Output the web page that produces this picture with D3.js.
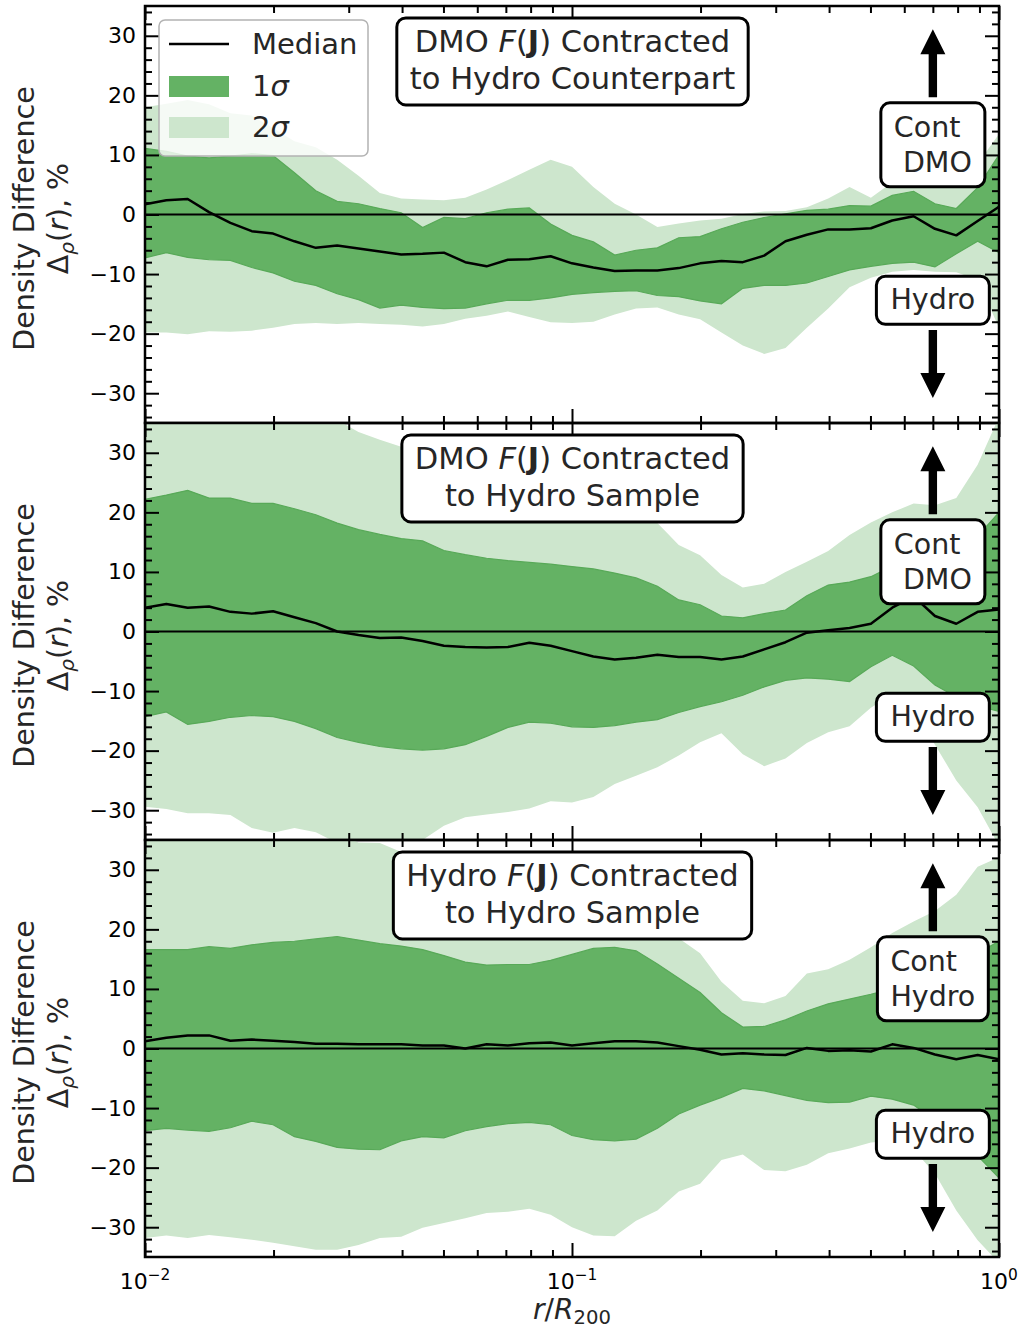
<!DOCTYPE html>
<html><head><meta charset="utf-8">
<script src="https://cdn.jsdelivr.net/npm/d3@7"></script>
<style>
body{margin:0;background:#fff}
svg{display:block}
text{font-family:"DejaVu Sans",sans-serif}
</style>
</head><body>
<svg id="c" width="1032" height="1331"></svg>
<script>
// ---------- DATA ----------
const rLog = [-2.00,-1.95,-1.90,-1.85,-1.80,-1.75,-1.70,-1.65,-1.60,-1.55,-1.50,-1.45,-1.40,-1.35,-1.30,-1.25,-1.20,-1.15,-1.10,-1.05,-1.00,-0.95,-0.90,-0.85,-0.80,-0.75,-0.70,-0.65,-0.60,-0.55,-0.50,-0.45,-0.40,-0.35,-0.30,-0.25,-0.20,-0.15,-0.10,-0.05,0.00];

// Panel 1: DMO F(J) contracted to Hydro counterpart
const med1 = [1.7,2.4,2.6,0.4,-1.4,-2.8,-3.2,-4.5,-5.6,-5.2,-5.7,-6.2,-6.7,-6.6,-6.4,-8.0,-8.7,-7.6,-7.5,-7.0,-8.2,-8.9,-9.5,-9.4,-9.4,-9.0,-8.2,-7.8,-8.0,-6.9,-4.5,-3.4,-2.5,-2.5,-2.3,-1.0,-0.3,-2.4,-3.5,-1.1,1.3];
const hi1_1 = [11.1,10.6,9.8,9.5,9.8,10.2,9.9,7.0,4.0,2.2,1.8,1.0,0.3,-2.2,-0.5,-0.7,0.3,0.9,1.1,-1.6,-3.5,-4.6,-6.8,-6.0,-5.6,-3.9,-3.7,-2.4,-1.3,-0.5,0.1,0.7,0.9,1.5,1.4,3.2,3.9,1.8,1.0,4.5,10.0];
const lo1_1 = [-7.3,-6.4,-7.2,-7.6,-7.7,-8.9,-9.8,-11.2,-11.9,-13.3,-14.3,-15.7,-15.2,-15.6,-15.8,-15.7,-15.0,-14.4,-14.4,-14.0,-13.4,-13.1,-12.9,-12.8,-13.6,-13.8,-14.5,-15.0,-12.4,-11.9,-11.9,-11.5,-10.4,-9.3,-8.7,-8.2,-8.0,-8.8,-6.6,-4.5,-6.4];
const hi2_1 = [18.0,18.6,19.2,18.5,17.0,16.6,14.5,12.3,11.3,9.2,6.5,3.6,2.7,2.5,2.4,2.8,4.2,5.8,7.5,9.2,8.0,4.6,1.8,0.0,-2.1,-1.5,-1.0,-0.7,0.1,0.5,0.6,1.2,2.7,4.6,2.8,5.4,6.5,6.3,7.0,8.5,13.5];
const lo2_1 = [-19.8,-19.8,-20.1,-19.6,-19.7,-19.5,-19.0,-18.4,-18.2,-18.4,-18.2,-18.4,-18.5,-18.8,-18.4,-17.5,-17.0,-16.3,-17.2,-18.1,-18.2,-18.0,-16.8,-15.8,-15.6,-16.8,-17.6,-19.8,-22.0,-23.4,-22.4,-19.0,-15.8,-12.2,-10.6,-9.6,-9.3,-9.6,-9.7,-11.0,-19.0];

// Panel 2: DMO F(J) contracted to Hydro sample
const med2 = [4.0,4.6,4.0,4.2,3.3,3.0,3.4,2.4,1.4,0.0,-0.6,-1.1,-1.0,-1.6,-2.4,-2.6,-2.7,-2.6,-1.9,-2.4,-3.3,-4.2,-4.7,-4.4,-3.9,-4.3,-4.3,-4.7,-4.2,-3.0,-1.8,-0.2,0.2,0.6,1.3,4.0,5.9,2.6,1.3,3.3,3.7];
const hi1_2 = [22.2,22.9,23.7,22.4,22.4,21.5,21.5,20.6,19.6,18.2,17.1,16.3,15.6,15.2,13.6,12.9,12.3,11.9,11.6,11.3,10.9,10.5,9.8,9.0,7.6,5.3,4.5,2.6,2.3,3.0,3.6,6.0,7.8,8.3,9.2,11.0,12.0,13.0,14.0,16.0,20.0];
const lo1_2 = [-14.3,-13.5,-15.6,-15.1,-14.4,-14.1,-14.3,-15.1,-16.3,-17.8,-18.6,-19.3,-19.7,-19.9,-19.7,-19.0,-17.6,-16.1,-15.2,-15.4,-16.0,-16.1,-15.8,-15.2,-14.8,-13.6,-12.6,-11.8,-10.7,-9.3,-8.2,-7.8,-8.0,-8.4,-5.9,-4.0,-5.8,-9.0,-11.0,-12.5,-13.4];
const hi2_2 = [36,36,36,36,36,36,36,36,36,35.5,33.5,32.2,31.0,29.0,27.5,26.0,25.0,24.0,23.0,22.0,21.5,21.0,20.5,20.0,18.2,14.5,12.8,9.5,7.4,8.0,10.0,11.7,13.5,16.2,18.3,20.0,21.5,21.2,22.4,28.0,36];
const lo2_2 = [-29.4,-29.8,-30.5,-30.5,-30.8,-33.0,-33.8,-33.0,-33.7,-35.5,-36,-36,-36,-35.0,-32.6,-31.2,-30.7,-30.3,-29.7,-28.5,-28.7,-27.8,-25.6,-24.2,-22.8,-20.8,-18.6,-17.1,-20.6,-22.6,-21.3,-18.7,-16.9,-15.9,-12.8,-10.5,-13.0,-19.0,-25.0,-29.5,-36];

// Panel 3: Hydro F(J) contracted to Hydro sample
const med3 = [1.2,1.8,2.2,2.2,1.3,1.5,1.3,1.1,0.8,0.8,0.7,0.7,0.7,0.5,0.5,0.0,0.7,0.5,0.9,1.0,0.5,0.9,1.2,1.2,1.0,0.4,-0.2,-1.0,-0.8,-1.0,-1.1,0.1,-0.4,-0.3,-0.5,0.7,0.1,-1.0,-1.8,-1.1,-1.8];
const hi1_3 = [16.6,16.6,16.6,17.1,16.8,17.4,17.8,18.0,18.4,18.8,18.2,17.6,17.2,16.6,15.6,14.5,14.0,14.1,14.1,14.8,15.8,16.8,17.0,16.4,14.2,11.8,9.4,6.0,3.6,3.7,4.8,6.3,7.5,8.3,9.1,10.0,11.0,12.5,14.0,16.0,18.0];
const lo1_3 = [-13.8,-13.4,-13.7,-13.9,-13.3,-12.2,-12.8,-14.8,-15.6,-16.6,-16.9,-17.0,-15.5,-14.8,-15.0,-13.8,-13.1,-12.6,-12.4,-12.8,-14.6,-15.3,-15.5,-15.2,-13.4,-11.0,-9.5,-8.2,-6.7,-7.1,-7.9,-8.7,-9.1,-9.0,-8.0,-8.5,-9.5,-12.0,-15.0,-18.0,-21.7];
const hi2_3 = [36,36,36,36,36,36,36,36,36,36,34.6,34.5,33.0,31.0,29.0,27.5,26.5,25.5,25.0,24.5,24.0,23.5,23.0,22.0,20.5,18.5,16.0,11.2,8.0,7.6,8.8,12.6,13.3,14.9,17.0,19.4,21.3,23.1,25.8,30.5,32.1];
const lo2_3 = [-31.8,-31.4,-31.8,-31.3,-31.7,-32.1,-32.6,-33.2,-33.8,-33.8,-33.0,-31.8,-31.6,-30.1,-29.3,-28.5,-27.6,-27.4,-26.9,-27.9,-30.0,-31.4,-31.5,-28.9,-27.2,-24.0,-22.7,-18.7,-17.8,-20.4,-20.6,-19.5,-17.6,-16.8,-15.8,-15.5,-17.0,-21.0,-27.2,-32.2,-36];

const titles = [
  ["DMO F(J) Contracted", "to Hydro Counterpart"],
  ["DMO F(J) Contracted", "to Hydro Sample"],
  ["Hydro F(J) Contracted", "to Hydro Sample"]
];
const contLabels = [["Cont", "\u00A0DMO"], ["Cont", "\u00A0DMO"], ["Cont", "Hydro"]];
const hydroLabel = "Hydro";
const yMajorTicks = [-30,-20,-10,0,10,20,30];
const xMajorTicks = [0.01, 0.1, 1];
const xTickExponents = ["\u22122", "\u22121", "0"];
const legendLabels = ["Median", "1", "2"];

// ---------- LAYOUT ----------
const svg = d3.select("#c");
const L = 145, R = 999, H = 417;
const tops = [6, 423, 840];
const DARK = "#64b264", LIGHT = "#cde6cd", TXT = "#262626";
const x = d3.scaleLog().domain([0.01, 1]).range([L, R]);
const rVals = rLog.map(v => Math.pow(10, v));
const panelData = [
  {med: med1, hi1: hi1_1, lo1: lo1_1, hi2: hi2_1, lo2: lo2_1},
  {med: med2, hi1: hi1_2, lo1: lo1_2, hi2: hi2_2, lo2: lo2_2},
  {med: med3, hi1: hi1_3, lo1: lo1_3, hi2: hi2_3, lo2: lo2_3}
];
const allXTicks = x.ticks();
const xMinor = allXTicks.filter(t => !xMajorTicks.some(m => Math.abs(m - t) < 1e-9));
const yMinor = d3.range(-34, 35, 2).filter(v => v % 10 !== 0);

function styleAxis(g, w) {
  g.select(".domain").remove();
  g.selectAll(".tick line").attr("stroke", "#000").attr("stroke-width", w);
}

function addFJ(textSel, str) {
  const idx = str.indexOf("F(J)");
  if (idx < 0) { textSel.append("tspan").text(str); return; }
  textSel.append("tspan").text(str.slice(0, idx));
  textSel.append("tspan").attr("font-style", "italic").text("F");
  textSel.append("tspan").text("(");
  textSel.append("tspan").attr("font-weight", "bold").text("J");
  textSel.append("tspan").text(")");
  textSel.append("tspan").text(str.slice(idx + 4));
}

function arrow(g, cx, yTail, yTip) {
  const dir = yTip < yTail ? -1 : 1;
  const headLen = 25, headW = 12.5, shaftW = 4.2;
  const yBase = yTip - dir * headLen;
  const p = [
    [cx - shaftW, yTail], [cx - shaftW, yBase], [cx - headW, yBase], [cx, yTip],
    [cx + headW, yBase], [cx + shaftW, yBase], [cx + shaftW, yTail]
  ];
  g.append("path").attr("d", "M" + p.map(q => q.join(",")).join("L") + "Z").attr("fill", "#000");
}

panelData.forEach((pd, i) => {
  const top = tops[i];
  const y = d3.scaleLinear().domain([-35, 35]).range([top + H, top]);
  const g = svg.append("g");
  const clipId = "clip" + i;
  svg.append("clipPath").attr("id", clipId).append("rect")
    .attr("x", L).attr("y", top).attr("width", R - L).attr("height", H);
  const pg = g.append("g").attr("clip-path", `url(#${clipId})`);
  const idx = d3.range(rVals.length);

  pg.append("path").datum(idx)
    .attr("d", d3.area().x(j => x(rVals[j])).y0(j => y(pd.lo2[j])).y1(j => y(pd.hi2[j])))
    .attr("fill", LIGHT);
  pg.append("path").datum(idx)
    .attr("d", d3.area().x(j => x(rVals[j])).y0(j => y(pd.lo1[j])).y1(j => y(pd.hi1[j])))
    .attr("fill", DARK).attr("stroke", "#58a958").attr("stroke-width", 1.2);
  pg.append("line").attr("x1", L).attr("x2", R).attr("y1", y(0)).attr("y2", y(0))
    .attr("stroke", "#000").attr("stroke-width", 2);
  pg.append("path").datum(idx)
    .attr("d", d3.line().x(j => x(rVals[j])).y(j => y(pd.med[j])))
    .attr("fill", "none").attr("stroke", "#000").attr("stroke-width", 2.5).attr("stroke-linejoin", "round");

  // ticks
  const gl = g.append("g").attr("transform", `translate(${L},0)`)
    .call(d3.axisLeft(y).tickValues(yMajorTicks).tickSizeInner(-14).tickSizeOuter(0).tickPadding(9)
      .tickFormat(v => v < 0 ? "\u2212" + Math.abs(v) : String(v)));
  styleAxis(gl, 2);
  gl.selectAll(".tick text").attr("font-size", 22).attr("fill", "#000").attr("font-family", "DejaVu Sans");
  const glm = g.append("g").attr("transform", `translate(${L},0)`)
    .call(d3.axisLeft(y).tickValues(yMinor).tickSizeInner(-7).tickSizeOuter(0).tickFormat(""));
  styleAxis(glm, 2);
  const gr = g.append("g").attr("transform", `translate(${R},0)`)
    .call(d3.axisRight(y).tickValues(yMajorTicks).tickSizeInner(-14).tickSizeOuter(0).tickFormat(""));
  styleAxis(gr, 2);
  const grm = g.append("g").attr("transform", `translate(${R},0)`)
    .call(d3.axisRight(y).tickValues(yMinor).tickSizeInner(-7).tickSizeOuter(0).tickFormat(""));
  styleAxis(grm, 2);
  const gt = g.append("g").attr("transform", `translate(0,${top})`)
    .call(d3.axisTop(x).tickValues(xMajorTicks).tickSizeInner(-14).tickSizeOuter(0).tickFormat(""));
  styleAxis(gt, 2);
  const gtm = g.append("g").attr("transform", `translate(0,${top})`)
    .call(d3.axisTop(x).tickValues(xMinor).tickSizeInner(-7).tickSizeOuter(0).tickFormat(""));
  styleAxis(gtm, 2);
  const gb = g.append("g").attr("transform", `translate(0,${top + H})`)
    .call(d3.axisBottom(x).tickValues(xMajorTicks).tickSizeInner(-14).tickSizeOuter(0).tickFormat(""));
  styleAxis(gb, 2);
  const gbm = g.append("g").attr("transform", `translate(0,${top + H})`)
    .call(d3.axisBottom(x).tickValues(xMinor).tickSizeInner(-7).tickSizeOuter(0).tickFormat(""));
  styleAxis(gbm, 2);

  // spines
  g.append("rect").attr("x", L).attr("y", top).attr("width", R - L).attr("height", H)
    .attr("fill", "none").attr("stroke", "#000").attr("stroke-width", 2.5);

  // y label
  const cy = top + H / 2 + 4;
  svg.append("text").attr("transform", `translate(34,${cy}) rotate(-90)`)
    .attr("text-anchor", "middle").attr("font-size", 28.5).attr("fill", TXT).text("Density Difference");
  const yl2 = svg.append("text").attr("transform", `translate(68,${cy}) rotate(-90)`)
    .attr("text-anchor", "middle").attr("font-size", 28.5).attr("fill", TXT);
  yl2.append("tspan").text("\u0394");
  yl2.append("tspan").attr("font-style", "italic").attr("font-size", 20).attr("dy", 6).text("\u03C1");
  yl2.append("tspan").attr("dy", -6).text("(");
  yl2.append("tspan").attr("font-style", "italic").text("r");
  yl2.append("tspan").text("), %");

  // central title box
  const tb = svg.append("g");
  const bcx = x(0.1) + 0.5, bcy = y(25.7);
  const tbRect = tb.append("rect");
  const lines = titles[i].map((s, k) => {
    const t = tb.append("text").attr("x", bcx).attr("y", bcy - 9.5 + k * 37)
      .attr("text-anchor", "middle").attr("font-size", 30.5).attr("fill", TXT);
    addFJ(t, s);
    return t;
  });
  const tw = d3.max(lines, t => t.node().getBBox().width);
  tbRect.attr("x", bcx - tw / 2 - 13).attr("y", bcy - 43.5).attr("width", tw + 26).attr("height", 87)
    .attr("rx", 9).attr("fill", "#fff").attr("stroke", "#000").attr("stroke-width", 3);

  // right side arrows and boxes
  const ax = x(0.7);
  arrow(svg, ax, y(19.7), y(31.1));
  arrow(svg, ax, y(-19.4), y(-30.8));
  const cb = svg.append("g");
  const ccy = y(11.7);
  const cRect = cb.append("rect");
  const cl = contLabels[i].map((s, k) => cb.append("text").attr("y", ccy - 8 + k * 35)
    .attr("font-size", 28.5).attr("fill", TXT).text(s));
  const cw = d3.max(cl, t => t.node().getBBox().width);
  const cx0 = ax - cw / 2 - 13;
  cl.forEach(t => t.attr("x", cx0 + 13));
  cRect.attr("x", cx0).attr("y", ccy - 42).attr("width", cw + 26).attr("height", 84)
    .attr("rx", 9).attr("fill", "#fff").attr("stroke", "#000").attr("stroke-width", 3);

  const hb = svg.append("g");
  const hcy = y(-14.4);
  const hRect = hb.append("rect");
  const ht = hb.append("text").attr("x", ax).attr("y", hcy + 8.5).attr("text-anchor", "middle")
    .attr("font-size", 28.5).attr("fill", TXT).text(hydroLabel);
  const hw = ht.node().getBBox().width;
  hRect.attr("x", ax - hw / 2 - 14).attr("y", hcy - 24).attr("width", hw + 28).attr("height", 48)
    .attr("rx", 9).attr("fill", "#fff").attr("stroke", "#000").attr("stroke-width", 3);

  // x tick labels on bottom panel
  if (i === 2) {
    xMajorTicks.forEach((v, k) => {
      const t = svg.append("text").attr("x", x(v)).attr("y", top + H + 32)
        .attr("text-anchor", "middle").attr("font-size", 22).attr("fill", "#000");
      t.append("tspan").text("10");
      t.append("tspan").attr("font-size", 15.4).attr("dy", -9).text(xTickExponents[k]);
    });
    const xl = svg.append("text").attr("x", (L + R) / 2).attr("y", top + H + 62)
      .attr("text-anchor", "middle").attr("font-size", 28).attr("fill", TXT);
    xl.append("tspan").attr("font-style", "italic").text("r");
    xl.append("tspan").text("/");
    xl.append("tspan").attr("font-style", "italic").text("R");
    xl.append("tspan").attr("font-size", 19.6).attr("dy", 5).text("200");
  }
});

// legend (panel 1)
const lg = svg.append("g");
lg.append("rect").attr("x", 159).attr("y", 20).attr("width", 209).attr("height", 136).attr("rx", 6)
  .attr("fill", "#fff").attr("fill-opacity", 0.8).attr("stroke", "#b3b3b3").attr("stroke-width", 1.5);
lg.append("line").attr("x1", 169).attr("x2", 229).attr("y1", 44).attr("y2", 44)
  .attr("stroke", "#000").attr("stroke-width", 2.5);
lg.append("rect").attr("x", 169).attr("y", 76).attr("width", 60).attr("height", 21).attr("fill", DARK);
lg.append("rect").attr("x", 169).attr("y", 117).attr("width", 60).attr("height", 21).attr("fill", LIGHT);
lg.append("text").attr("x", 252).attr("y", 54).attr("font-size", 29).attr("fill", TXT).text(legendLabels[0]);
[1, 2].forEach((k, m) => {
  const t = lg.append("text").attr("x", 252).attr("y", 96 + m * 41).attr("font-size", 29).attr("fill", TXT);
  t.append("tspan").text(legendLabels[k]);
  t.append("tspan").attr("font-style", "italic").text("\u03C3");
});
</script>
</body></html>
